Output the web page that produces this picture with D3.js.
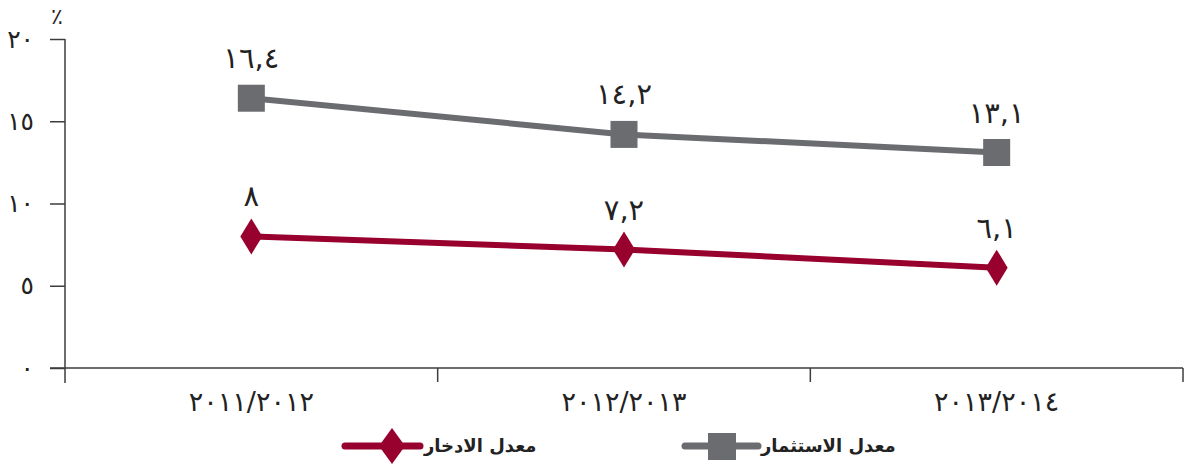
<!DOCTYPE html>
<html>
<head>
<meta charset="utf-8">
<script src="https://cdn.jsdelivr.net/npm/d3@7/dist/d3.min.js"></script>
<style>
  html, body { margin: 0; padding: 0; background: #ffffff; }
  svg { display: block; }
  text { font-family: "DejaVu Sans", sans-serif; }
</style>
</head>
<body>
<svg id="chart" width="1184" height="466"></svg>
<script>
// Fiscal years on the horizontal axis
const categories = ["2011/2012", "2012/2013", "2013/2014"];
// Investment rate (%)
const investment = [16.4, 14.2, 13.1];
// Saving rate (%)
const saving = [8, 7.2, 6.1];
// Vertical axis ticks
const yTicks = [0, 5, 10, 15, 20];
// Series names
const seriesNames = ["معدل الادخار", "معدل الاستثمار"];

const arabicDigits = "٠١٢٣٤٥٦٧٨٩";
const toArabic = s => String(s).replace(/[0-9]/g, d => arabicDigits[+d]).replace(/\./g, ",");

const RED = "#98002e";
const GRAY = "#6b6c70";
const AXIS = "#3c3c3c";

const svg = d3.select("#chart");

const x = d3.scaleBand().domain(categories).range([65, 1183]).padding(0);
const y = d3.scaleLinear().domain([0, 20]).range([368, 39]);

// Y axis
const yAxis = svg.append("g")
  .attr("transform", "translate(65,0)")
  .call(d3.axisLeft(y).tickValues(yTicks).tickSize(15).tickSizeOuter(0).tickPadding(16)
    .tickFormat(d => toArabic(d)));
yAxis.select(".domain").remove();
yAxis.selectAll(".tick line").attr("stroke", AXIS).attr("stroke-width", 1.5);
yAxis.selectAll(".tick text")
  .attr("font-size", 25).attr("fill", "#222").attr("font-family", "DejaVu Sans, sans-serif")
  .attr("direction", "ltr");

svg.append("line")
  .attr("x1", 65).attr("x2", 65)
  .attr("y1", y(20)).attr("y2", 383)
  .attr("stroke", AXIS).attr("stroke-width", 1.5);

// Percent sign above the axis
svg.append("text")
  .attr("x", 57).attr("y", 24)
  .attr("text-anchor", "middle")
  .attr("font-size", 22).attr("fill", "#222")
  .text("٪");

// X axis line and band separators
svg.append("line")
  .attr("x1", 50).attr("x2", 1183)
  .attr("y1", y(0)).attr("y2", y(0))
  .attr("stroke", AXIS).attr("stroke-width", 1.5);

svg.append("g").selectAll("line")
  .data(categories)
  .join("line")
  .attr("x1", d => x(d) + x.bandwidth())
  .attr("x2", d => x(d) + x.bandwidth())
  .attr("y1", y(0)).attr("y2", 382)
  .attr("stroke", AXIS).attr("stroke-width", 1.5);

const xAxis = svg.append("g")
  .attr("transform", `translate(0,${y(0)})`)
  .call(d3.axisBottom(x).tickSize(0).tickPadding(24).tickFormat(d => toArabic(d)));
xAxis.select(".domain").remove();
xAxis.selectAll(".tick text")
  .attr("font-size", 27).attr("fill", "#222").attr("font-family", "DejaVu Sans, sans-serif")
  .attr("direction", "ltr");

const cx = d => x(d) + x.bandwidth() / 2;
const line = d3.line().x(d => cx(d.c)).y(d => y(d.v));

const invData = categories.map((c, i) => ({ c, v: investment[i] }));
const savData = categories.map((c, i) => ({ c, v: saving[i] }));

// Investment series
svg.append("path")
  .datum(invData)
  .attr("d", line)
  .attr("fill", "none").attr("stroke", GRAY).attr("stroke-width", 6);

svg.append("g").selectAll("rect")
  .data(invData)
  .join("rect")
  .attr("x", d => cx(d.c) - 13.5).attr("y", d => y(d.v) - 13.5)
  .attr("width", 27).attr("height", 27)
  .attr("fill", GRAY);

// Saving series
svg.append("path")
  .datum(savData)
  .attr("d", line)
  .attr("fill", "none").attr("stroke", RED).attr("stroke-width", 6);

const diamond = (w, h) => `M0,${-h / 2}L${w / 2},0L0,${h / 2}L${-w / 2},0Z`;

svg.append("g").selectAll("path")
  .data(savData)
  .join("path")
  .attr("transform", d => `translate(${cx(d.c)},${y(d.v)})`)
  .attr("d", diamond(22, 36))
  .attr("fill", RED);

// Value labels
const labels = svg.append("g")
  .attr("font-size", 29).attr("fill", "#222").attr("text-anchor", "middle");

labels.selectAll("text.inv")
  .data(invData)
  .join("text").attr("class", "inv")
  .attr("x", d => cx(d.c)).attr("y", d => y(d.v) - 30)
  .attr("direction", "ltr")
  .text(d => toArabic(d.v));

labels.selectAll("text.sav")
  .data(savData)
  .join("text").attr("class", "sav")
  .attr("x", d => cx(d.c)).attr("y", d => y(d.v) - 30)
  .attr("direction", "ltr")
  .text(d => toArabic(d.v));

// Legend
const legend = svg.append("g");
const items = [
  { name: seriesNames[0], color: RED, x1: 345, x2: 420, mx: 392, text: 424, shape: "diamond" },
  { name: seriesNames[1], color: GRAY, x1: 685, x2: 758, mx: 722, text: 761, shape: "square" }
];
const ly = 446;
items.forEach(it => {
  legend.append("line")
    .attr("x1", it.x1).attr("x2", it.x2).attr("y1", ly).attr("y2", ly)
    .attr("stroke", it.color).attr("stroke-width", 7).attr("stroke-linecap", "round");
  if (it.shape === "diamond") {
    legend.append("path")
      .attr("transform", `translate(${it.mx},${ly})`)
      .attr("d", diamond(26, 36))
      .attr("fill", it.color);
  } else {
    legend.append("rect")
      .attr("x", it.mx - 14).attr("y", ly - 13)
      .attr("width", 28).attr("height", 27)
      .attr("fill", it.color);
  }
  legend.append("text")
    .attr("x", it.text).attr("y", ly + 6)
    .attr("font-size", 18).attr("font-weight", "bold").attr("fill", "#222")
    .text(it.name);
});
</script>
</body>
</html>
